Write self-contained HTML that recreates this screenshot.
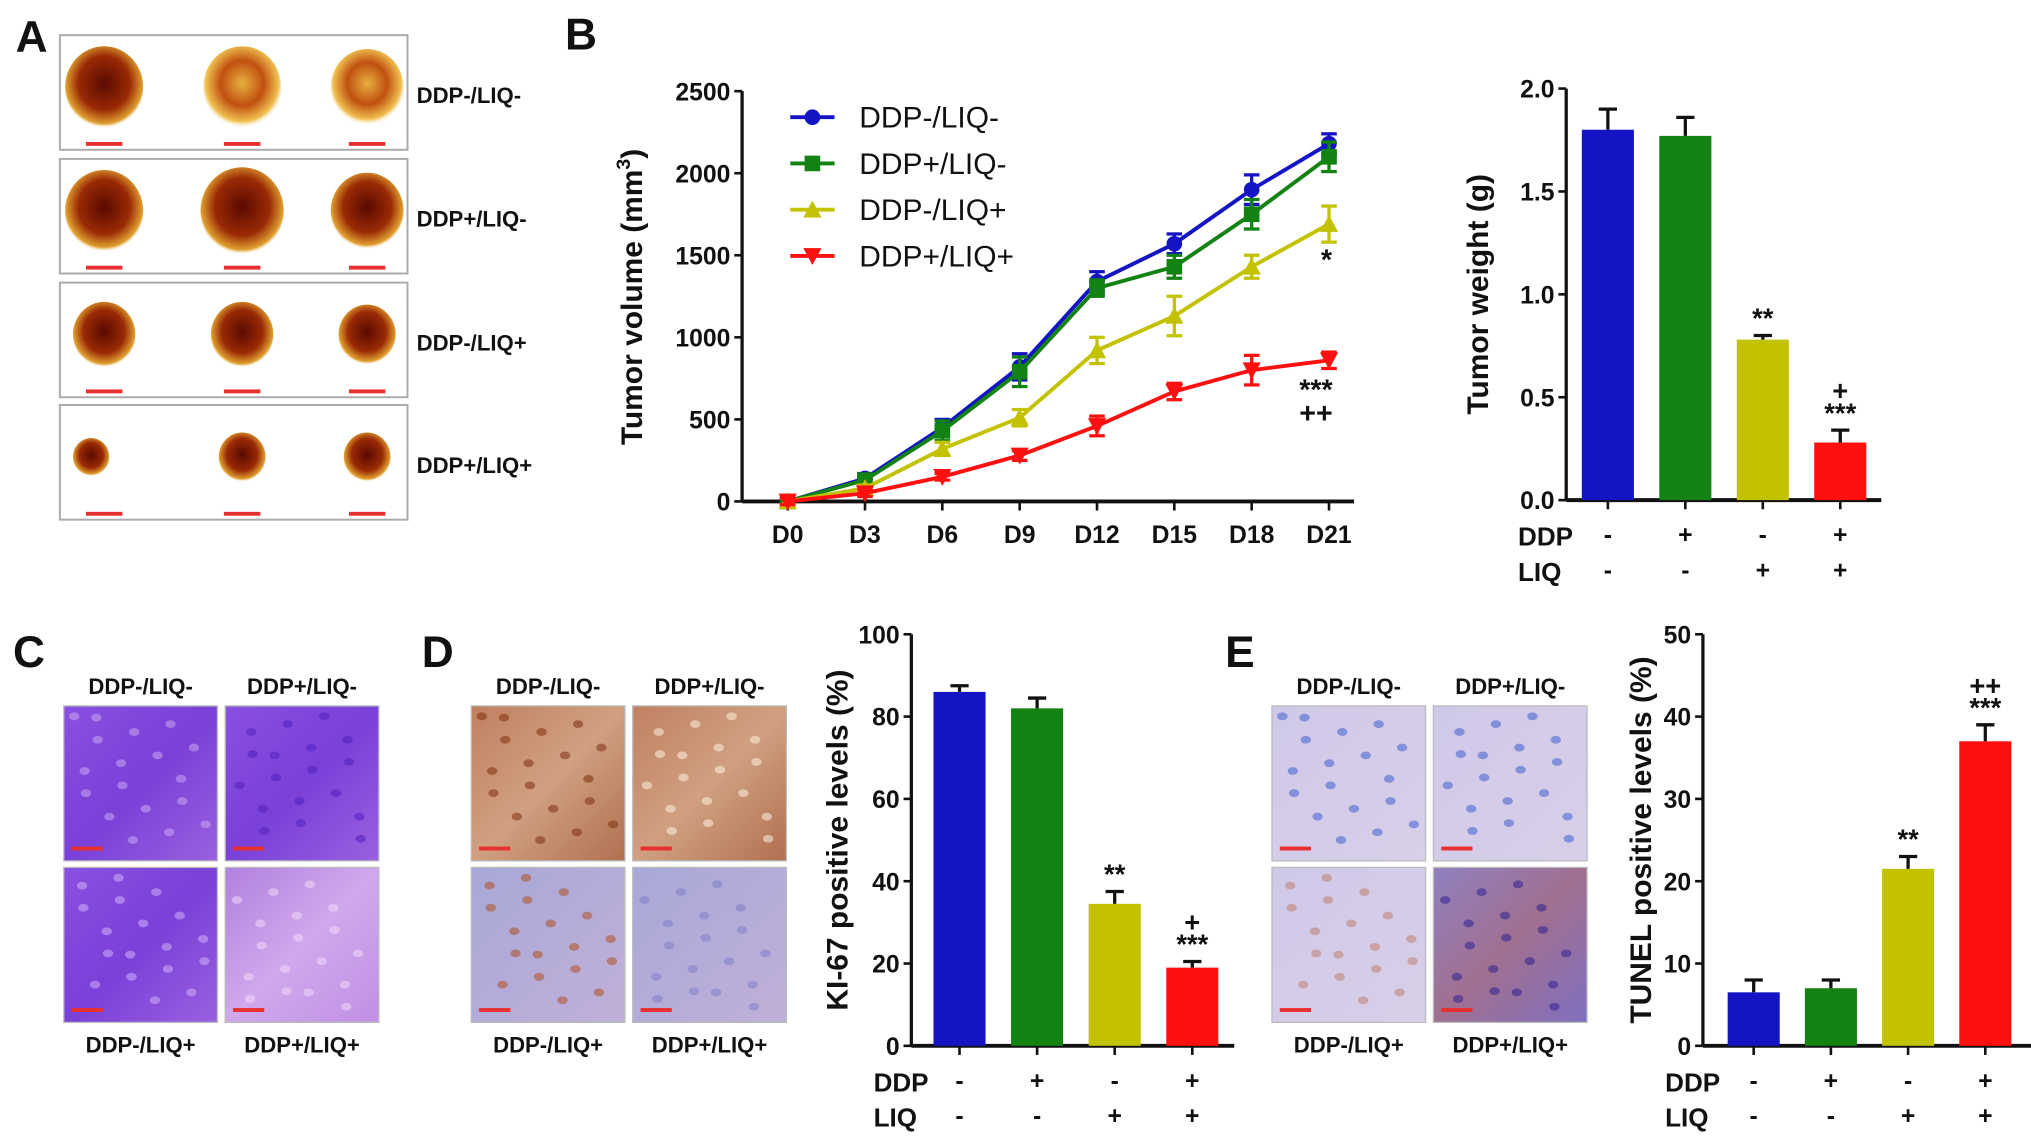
<!DOCTYPE html>
<html><head><meta charset="utf-8"><style>
html,body{margin:0;padding:0;background:#fff;}
svg{display:block;font-family:"Liberation Sans",Arial,sans-serif;}
</style></head><body>
<svg id="fig" width="2031" height="1137" viewBox="0 0 1560 873" preserveAspectRatio="none" xmlns="http://www.w3.org/2000/svg">
<defs>
<radialGradient id="tum1" cx="50%" cy="45%" r="55%"><stop offset="0" stop-color="#5a0a00"/><stop offset="0.6" stop-color="#9a2a05"/><stop offset="0.9" stop-color="#e0a030"/><stop offset="1" stop-color="#fff" stop-opacity="0"/></radialGradient>
<radialGradient id="tum2" cx="50%" cy="45%" r="55%"><stop offset="0" stop-color="#e8b040"/><stop offset="0.5" stop-color="#c05010"/><stop offset="0.85" stop-color="#f0c050"/><stop offset="1" stop-color="#fff" stop-opacity="0"/></radialGradient>
<linearGradient id="he1" x1="0" y1="0" x2="1" y2="1"><stop offset="0" stop-color="#8a50e0"/><stop offset="0.5" stop-color="#7a40d8"/><stop offset="1" stop-color="#9a60e0"/></linearGradient>
<linearGradient id="he2" x1="0" y1="0" x2="1" y2="1"><stop offset="0" stop-color="#b080e0"/><stop offset="0.5" stop-color="#d0a8ec"/><stop offset="1" stop-color="#c090e4"/></linearGradient>
<linearGradient id="ki1" x1="0" y1="0" x2="1" y2="1"><stop offset="0" stop-color="#c08060"/><stop offset="0.5" stop-color="#d0a080"/><stop offset="1" stop-color="#b07050"/></linearGradient>
<linearGradient id="ki2" x1="0" y1="0" x2="1" y2="1"><stop offset="0" stop-color="#a8a8d8"/><stop offset="1" stop-color="#c0b0d8"/></linearGradient>
<linearGradient id="tu1" x1="0" y1="0" x2="1" y2="1"><stop offset="0" stop-color="#d0c8e8"/><stop offset="1" stop-color="#d8d0e8"/></linearGradient>
<linearGradient id="tu2" x1="0" y1="0" x2="1" y2="1"><stop offset="0" stop-color="#9080c0"/><stop offset="0.5" stop-color="#a07090"/><stop offset="1" stop-color="#8070c0"/></linearGradient>
</defs>
</svg>
<script>
// ---- data ----
const days = ["D0","D3","D6","D9","D12","D15","D18","D21"];
const volBlue = [0,140,450,820,1340,1570,1900,2180];
const volGreen = [0,130,430,790,1300,1430,1750,2100];
const volYellow = [0,80,320,510,920,1130,1430,1690];
const volRed = [0,50,150,280,460,670,800,860];
const errBlue = [20,30,50,80,60,60,90,60];
const errGreen = [20,30,60,90,50,70,90,90];
const errYellow = [20,20,40,50,80,120,70,110];
const errRed = [20,20,20,30,60,50,90,50];
const volTicks = [0,500,1000,1500,2000,2500];
const groups = ["DDP-/LIQ-","DDP+/LIQ-","DDP-/LIQ+","DDP+/LIQ+"];
const ddpSigns = ["-","+","-","+"];
const liqSigns = ["-","-","+","+"];
const weightVals = [1.80,1.77,0.78,0.28];
const weightErr = [0.10,0.09,0.02,0.06];
const weightTicks = [0,0.5,1.0,1.5,2.0];
const weightTickLabels = ["0.0","0.5","1.0","1.5","2.0"];
const kiVals = [86,82,34.5,19];
const kiErr = [1.5,2.5,3,1.5];
const kiTicks = [0,20,40,60,80,100];
const tunelVals = [6.5,7,21.5,37];
const tunelErr = [1.5,1,1.5,2];
const tunelTicks = [0,10,20,30,40,50];
const colors = ["#1414c4","#128212","#c2c200","#ff1010"];

const svg = document.getElementById('fig');
const NS = "http://www.w3.org/2000/svg";
function mk(tag, attrs, parent){
  const e = document.createElementNS(NS, tag);
  for (const k in attrs) e.setAttribute(k, attrs[k]);
  (parent||svg).appendChild(e);
  return e;
}
function txt(x,y,s,size,parent,anchor,weight){
  const t = mk('text',{x:x,y:y,'font-size':size,'text-anchor':anchor||'middle','font-weight':weight||'bold',fill:'#111'},parent);
  t.textContent = s;
  return t;
}
function grp(name){
  const g = mk('g',{});
  
  
  return g;
}

[["A",12,40],["B",434,38],["C",10,512],["D",324,512],["E",941,512]].forEach(p=>{
  const t = txt(p[1],p[2],p[0],34,svg,'start','bold');
  
  
});

const gA = grp('tumor-photos');
const rowsA = [27,122,217,311];
const sizesA = [[30,30,28],[30,32,28],[24,24,22],[14,18,18]];
rowsA.forEach((y0,i)=>{
  const r = mk('rect',{x:46,y:y0,width:267,height:88,fill:'#fff',stroke:'#aaa','stroke-width':1.5},gA);
  
  
  [80,186,282].forEach((cx,j)=>{
    const s = sizesA[i][j];
    mk('ellipse',{cx:cx-(i==3&&j==0?10:0),cy:y0+40,rx:s,ry:s*1.05,fill:(j==1&&i==0)||(j==2&&i==0)?'url(#tum2)':'url(#tum1)'},gA);
    mk('rect',{x:cx-14,y:y0+82,width:28,height:3,fill:'#e83030'},gA);
  });
  const l = txt(320,y0+52,groups[i],17,gA,'start');
  
  
});

function imgGrid(name,x0,fills,spots){
  const g = grp(name);
  const xs=[x0,x0+124], ys=[542,666];
  for(let r=0;r<2;r++)for(let c=0;c<2;c++){
    const i=r*2+c;
    mk('rect',{x:xs[c],y:ys[r],width:118,height:119,fill:fills[i],stroke:'#bbb','stroke-width':1},g);
    for(let k=0;k<18;k++){
      const sx = xs[c]+8+((k*37+i*13)%102), sy = ys[r]+8+((k*53+i*29)%100);
      mk('ellipse',{cx:sx,cy:sy,rx:4,ry:3,fill:spots[i],opacity:0.55},g);
    }
    mk('rect',{x:xs[c]+6,y:ys[r]+108,width:24,height:3,fill:'#e83030'},g);
  }
  txt(x0+59,533,groups[0],17,g);txt(x0+183,533,groups[1],17,g);
  txt(x0+59,808,groups[2],17,g);txt(x0+183,808,groups[3],17,g);
  return g;
}
imgGrid('he-stain-images',49,['url(#he1)','url(#he1)','url(#he1)','url(#he2)'],['#c8a8f0','#5020c0','#d0b0f8','#f0d8f8']);
imgGrid('ki67-stain-images',362,['url(#ki1)','url(#ki1)','url(#ki2)','url(#ki2)'],['#803010','#fff0e0','#b05020','#8080c8']);
imgGrid('tunel-stain-images',977,['url(#tu1)','url(#tu1)','url(#tu1)','url(#tu2)'],['#4060d0','#4060d0','#c08070','#302090']);

const gB = grp('tumor-volume-chart');
const bx0=570, bxEnd=1040, by0=385, byTop=70;
const xPos = i => 605 + i*59.4;
const yVol = v => by0 - (v/2500)*(by0-byTop);
mk('line',{x1:bx0,y1:byTop,x2:bx0,y2:by0,stroke:'#111','stroke-width':2.5},gB);
mk('line',{x1:bx0,y1:by0,x2:bxEnd,y2:by0,stroke:'#111','stroke-width':3},gB);
volTicks.forEach(v=>{
  mk('line',{x1:bx0-6,y1:yVol(v),x2:bx0,y2:yVol(v),stroke:'#111','stroke-width':2},gB);
  const t=txt(bx0-9,yVol(v)+7,String(v),19,gB,'end');
  
  
});
days.forEach((d,i)=>{
  mk('line',{x1:xPos(i),y1:by0,x2:xPos(i),y2:by0+7,stroke:'#111','stroke-width':2},gB);
  const t=txt(xPos(i),by0+32,d,19,gB);
  
  
});
const yt = mk('text',{x:0,y:0,'font-size':23,'font-weight':'bold','text-anchor':'middle',fill:'#111',transform:'translate(493,228) rotate(-90)'},gB);
yt.innerHTML='Tumor volume (mm<tspan dy="-9" font-size="15">3</tspan><tspan dy="9">)</tspan>';


const series = [[volBlue,errBlue,'circle'],[volGreen,errGreen,'square'],[volYellow,errYellow,'up'],[volRed,errRed,'down']];
function marker(kind,x,y,c,g){
  if(kind==='circle') return mk('circle',{cx:x,cy:y,r:6,fill:c},g);
  if(kind==='square') return mk('rect',{x:x-6,y:y-6,width:12,height:12,fill:c},g);
  if(kind==='up') return mk('polygon',{points:`${x},${y-7} ${x-7},${y+6} ${x+7},${y+6}`,fill:c},g);
  return mk('polygon',{points:`${x},${y+7} ${x-7},${y-6} ${x+7},${y-6}`,fill:c},g);
}
series.forEach((s,si)=>{
  const g = mk('g',{},gB);
  
  
  const pts = s[0].map((v,i)=>xPos(i)+','+yVol(v)).join(' ');
  mk('polyline',{points:pts,fill:'none',stroke:colors[si],'stroke-width':3},g);
  s[0].forEach((v,i)=>{
    const x=xPos(i), yh=yVol(v+s[1][i]), yl=yVol(v-s[1][i]);
    mk('line',{x1:x,y1:yh,x2:x,y2:yl,stroke:colors[si],'stroke-width':2.5},g);
    mk('line',{x1:x-6,y1:yh,x2:x+6,y2:yh,stroke:colors[si],'stroke-width':2.5},g);
    mk('line',{x1:x-6,y1:yl,x2:x+6,y2:yl,stroke:colors[si],'stroke-width':2.5},g);
    const m=marker(s[2],x,yVol(v),colors[si],g);
    
    
  });
  const ly = 90 + si*35.5;
  const lg = mk('g',{},gB);
  
  
  mk('line',{x1:607,y1:ly,x2:641,y2:ly,stroke:colors[si],'stroke-width':3},lg);
  marker(s[2],624,ly,colors[si],lg);
  txt(660,ly+8,groups[si],23,lg,'start','normal');
});
txt(xPos(7)-2,yVol(volYellow[7])+35,'*',22,gB);
txt(xPos(7)-10,yVol(volRed[7])+30,'***',22,gB);
txt(xPos(7)-10,yVol(volRed[7])+48,'++',22,gB);

function barChart(name,opt){
  const g = grp(name);
  const yS = v => opt.y0 - (v/opt.max)*(opt.y0-opt.yTop);
  mk('line',{x1:opt.ax,y1:opt.yTop,x2:opt.ax,y2:opt.y0,stroke:'#111','stroke-width':2.5},g);
  mk('line',{x1:opt.ax,y1:opt.y0,x2:opt.xEnd,y2:opt.y0,stroke:'#111','stroke-width':3},g);
  opt.ticks.forEach((v,i)=>{
    mk('line',{x1:opt.ax-6,y1:yS(v),x2:opt.ax,y2:yS(v),stroke:'#111','stroke-width':2},g);
    const t=txt(opt.ax-9,yS(v)+7,opt.tickLabels[i],19,g,'end');
    
    
  });
  const yt=txt(0,0,opt.title,23,g);
  yt.setAttribute('transform',`translate(${opt.titleX},${(opt.y0+opt.yTop)/2}) rotate(-90)`);
  
  
  opt.vals.forEach((v,i)=>{
    const cx = opt.x0 + i*opt.step;
    const b = mk('rect',{x:cx-20,y:yS(v),width:40,height:opt.y0-yS(v),fill:colors[i]},g);
    
    
    const ye=yS(v+opt.err[i]);
    mk('line',{x1:cx,y1:ye,x2:cx,y2:yS(v),stroke:'#111','stroke-width':2.5},g);
    mk('line',{x1:cx-7,y1:ye,x2:cx+7,y2:ye,stroke:'#111','stroke-width':2.5},g);
    mk('line',{x1:cx,y1:opt.y0,x2:cx,y2:opt.y0+7,stroke:'#111','stroke-width':2},g);
    txt(cx,opt.y0+33,ddpSigns[i],19,g);
    txt(cx,opt.y0+60,liqSigns[i],19,g);
    (opt.annot[i]||[]).forEach((a,k,arr)=>{
      txt(cx,ye-6-(arr.length-1-k)*17,a,21,g);
    });
  });
  txt(opt.lblX,opt.y0+35,'DDP',20,g,'start');
  txt(opt.lblX,opt.y0+62,'LIQ',20,g,'start');
}
barChart('tumor-weight-chart',{ax:1203,y0:384,yTop:68,xEnd:1445,max:2.0,ticks:weightTicks,tickLabels:weightTickLabels,vals:weightVals,err:weightErr,x0:1235,step:59.5,title:'Tumor weight (g)',titleX:1143,lblX:1166,annot:[[],[],['**'],['+','***']]});
barChart('ki67-chart',{ax:700,y0:803,yTop:487,xEnd:948,max:100,ticks:kiTicks,tickLabels:kiTicks.map(String),vals:kiVals,err:kiErr,x0:737,step:59.6,title:'KI-67 positive levels (%)',titleX:651,lblX:671,annot:[[],[],['**'],['+','***']]});
barChart('tunel-chart',{ax:1308,y0:803,yTop:487,xEnd:1560,max:50,ticks:tunelTicks,tickLabels:tunelTicks.map(String),vals:tunelVals,err:tunelErr,x0:1347,step:59.3,title:'TUNEL positive levels (%)',titleX:1268,lblX:1279,annot:[[],[],['**'],['++','***']]});
</script>
</body></html>
